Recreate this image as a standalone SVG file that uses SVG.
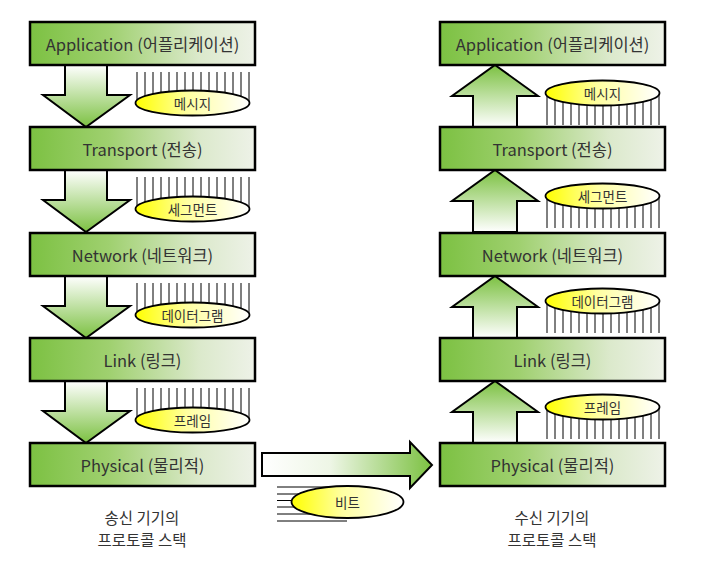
<svg xmlns="http://www.w3.org/2000/svg" xmlns:xlink="http://www.w3.org/1999/xlink" width="712" height="567" viewBox="0 0 712 567">
<style>
.box{stroke:#000;stroke-width:2.5;fill:url(#gBox)}
.arrD{stroke:#000;stroke-width:2;fill:url(#gDown);stroke-linejoin:miter}
.arrU{stroke:#000;stroke-width:2;fill:url(#gUp);stroke-linejoin:miter}
.arrR{stroke:#000;stroke-width:2;fill:url(#gRight);stroke-linejoin:miter}
.ell{stroke:#000;stroke-width:1.8;fill:url(#gEll)}
.hatch line{stroke:#000;stroke-width:1}
.t{font-family:"Noto Sans CJK KR","Noto Sans",sans-serif;font-size:16.5px;fill:#333;text-anchor:middle;dominant-baseline:central}
.te{font-family:"Noto Sans CJK KR","Noto Sans",sans-serif;font-size:13.5px;fill:#333;text-anchor:middle;dominant-baseline:central}
.cap{font-family:"Noto Sans CJK KR",sans-serif;font-size:15.5px;fill:#333;text-anchor:middle}
</style>
<defs>
<linearGradient id="gBox" x1="0" y1="0" x2="1" y2="0">
<stop offset="0" stop-color="#7cc142"/>
<stop offset="0.35" stop-color="#9fd06f"/>
<stop offset="0.75" stop-color="#dbe9cb"/>
<stop offset="1" stop-color="#eef2e8"/>
</linearGradient>
<linearGradient id="gDown" x1="0" y1="0" x2="0" y2="1">
<stop offset="0" stop-color="#ffffff"/>
<stop offset="1" stop-color="#7cc142"/>
</linearGradient>
<linearGradient id="gUp" x1="0" y1="1" x2="0" y2="0">
<stop offset="0" stop-color="#ffffff"/>
<stop offset="1" stop-color="#7cc142"/>
</linearGradient>
<linearGradient id="gRight" x1="0" y1="0" x2="1" y2="0">
<stop offset="0" stop-color="#ffffff"/>
<stop offset="0.4" stop-color="#eef6e6"/>
<stop offset="1" stop-color="#7cc142"/>
</linearGradient>
<linearGradient id="gEll" x1="0" y1="0" x2="1" y2="0">
<stop offset="0" stop-color="#ffff00"/>
<stop offset="0.45" stop-color="#ffffa0"/>
<stop offset="1" stop-color="#ffffff"/>
</linearGradient>
<g id="hv" class="hatch">
<line x1="0" y1="0" x2="0" y2="32"/><line x1="8" y1="0" x2="8" y2="32"/><line x1="16" y1="0" x2="16" y2="32"/><line x1="24" y1="0" x2="24" y2="32"/><line x1="32" y1="0" x2="32" y2="32"/><line x1="40" y1="0" x2="40" y2="32"/><line x1="48" y1="0" x2="48" y2="32"/><line x1="56" y1="0" x2="56" y2="32"/><line x1="64" y1="0" x2="64" y2="32"/><line x1="72" y1="0" x2="72" y2="32"/><line x1="80" y1="0" x2="80" y2="32"/><line x1="88" y1="0" x2="88" y2="32"/><line x1="96" y1="0" x2="96" y2="32"/><line x1="104" y1="0" x2="104" y2="32"/><line x1="112" y1="0" x2="112" y2="32"/>
</g>
<path id="aDown" class="arrD" d="M65,0 H107 V30 H130 L86,62 L43,30 H65 Z"/>
<path id="aUp" class="arrU" d="M495,0 L538,31 H517 V62 H473 V31 H452 Z"/>
</defs>

<g id="connectors">
<use xlink:href="#aDown" transform="translate(0,65)"/>
<use xlink:href="#aDown" transform="translate(0,170)"/>
<use xlink:href="#aDown" transform="translate(0,276)"/>
<use xlink:href="#aDown" transform="translate(0,381)"/>
<use xlink:href="#aUp" transform="translate(0,65)"/>
<use xlink:href="#aUp" transform="translate(0,170)"/>
<use xlink:href="#aUp" transform="translate(0,276)"/>
<use xlink:href="#aUp" transform="translate(0,381)"/>
<path class="arrR" d="M262,453 H410 V442 L432,465 L410,488 V476 H262 Z"/>
</g>

<g id="left-stack">
<g id="l-app"><rect class="box" x="30" y="22" width="225" height="43"/><text class="t" x="142.5" y="43.5">Application (어플리케이션)</text></g>
<g id="l-transport"><rect class="box" x="30" y="127" width="225" height="43"/><text class="t" x="142.5" y="148.5">Transport (전송)</text></g>
<g id="l-network"><rect class="box" x="30" y="233" width="225" height="43"/><text class="t" x="142.5" y="254.5">Network (네트워크)</text></g>
<g id="l-link"><rect class="box" x="30" y="338" width="225" height="43"/><text class="t" x="142.5" y="359.5">Link (링크)</text></g>
<g id="l-physical"><rect class="box" x="30" y="443" width="225" height="43"/><text class="t" x="142.5" y="464.5">Physical (물리적)</text></g>
</g>

<g id="right-stack">
<g id="r-app"><rect class="box" x="440" y="22" width="225" height="43"/><text class="t" x="552.5" y="43.5">Application (어플리케이션)</text></g>
<g id="r-transport"><rect class="box" x="440" y="127" width="225" height="43"/><text class="t" x="552.5" y="148.5">Transport (전송)</text></g>
<g id="r-network"><rect class="box" x="440" y="233" width="225" height="43"/><text class="t" x="552.5" y="254.5">Network (네트워크)</text></g>
<g id="r-link"><rect class="box" x="440" y="338" width="225" height="43"/><text class="t" x="552.5" y="359.5">Link (링크)</text></g>
<g id="r-physical"><rect class="box" x="440" y="443" width="225" height="43"/><text class="t" x="552.5" y="464.5">Physical (물리적)</text></g>
</g>

<g id="left-pdus">
<g id="l-msg"><use xlink:href="#hv" transform="translate(137,72)"/><ellipse class="ell" cx="192.5" cy="103" rx="57" ry="12.5"/><text class="te" x="192.5" y="103">메시지</text></g>
<g id="l-seg"><use xlink:href="#hv" transform="translate(137,177)"/><ellipse class="ell" cx="192.5" cy="209" rx="57" ry="12.5"/><text class="te" x="192.5" y="209">세그먼트</text></g>
<g id="l-dg"><use xlink:href="#hv" transform="translate(137,283)"/><ellipse class="ell" cx="192.5" cy="315" rx="57" ry="12.5"/><text class="te" x="192.5" y="315">데이터그램</text></g>
<g id="l-frame"><use xlink:href="#hv" transform="translate(137,388)"/><ellipse class="ell" cx="192.5" cy="420" rx="57" ry="12.5"/><text class="te" x="192.5" y="420">프레임</text></g>
</g>

<g id="right-pdus">
<g id="r-msg"><use xlink:href="#hv" transform="translate(547,93)"/><ellipse class="ell" cx="602.5" cy="93" rx="57" ry="12.5"/><text class="te" x="602.5" y="93">메시지</text></g>
<g id="r-seg"><use xlink:href="#hv" transform="translate(547,196)"/><ellipse class="ell" cx="602.5" cy="196" rx="57" ry="12.5"/><text class="te" x="602.5" y="196">세그먼트</text></g>
<g id="r-dg"><use xlink:href="#hv" transform="translate(547,301)"/><ellipse class="ell" cx="602.5" cy="301" rx="57" ry="12.5"/><text class="te" x="602.5" y="301">데이터그램</text></g>
<g id="r-frame"><use xlink:href="#hv" transform="translate(547,407)"/><ellipse class="ell" cx="602.5" cy="407" rx="57" ry="12.5"/><text class="te" x="602.5" y="407">프레임</text></g>
</g>

<g id="bit">
<g class="hatch">
<line x1="277" y1="487" x2="347" y2="487"/><line x1="277" y1="494" x2="347" y2="494"/><line x1="277" y1="500.5" x2="347" y2="500.5"/><line x1="277" y1="507" x2="347" y2="507"/><line x1="277" y1="514" x2="347" y2="514"/><line x1="277" y1="521" x2="347" y2="521"/>
</g>
<ellipse class="ell" cx="347.5" cy="502" rx="56" ry="16"/>
<text class="te" x="347.5" y="502">비트</text>
</g>

<g id="captions">
<text class="cap" x="142" y="524">송신 기기의</text>
<text class="cap" x="142" y="546">프로토콜 스택</text>
<text class="cap" x="552" y="524">수신 기기의</text>
<text class="cap" x="552" y="546">프로토콜 스택</text>
</g>
</svg>
